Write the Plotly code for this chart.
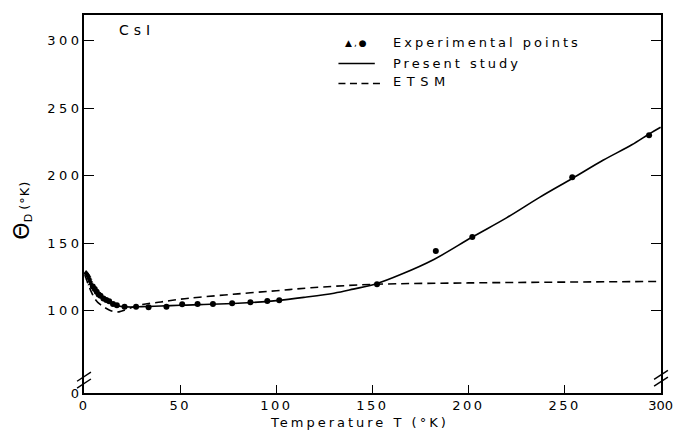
import plotly.graph_objects as go

# ---------------- data ----------------
exp_tri_T = [1.0, 1.5, 2.0, 2.5, 3.0, 3.5]
exp_tri_theta = [128, 127, 126, 124, 122, 120]

exp_dot_T = [4.5, 5.5, 6.5, 7.5, 8.5, 10, 11.5, 13, 15, 17, 21, 27, 33.5,
             42.8, 51, 59, 67, 77, 86.5, 95.3, 101.5, 152.4, 183, 202, 254, 294, 302]
exp_dot_theta = [118, 116, 114, 112, 111, 109, 108, 107, 105, 104, 103, 103, 102.5,
                 103, 104.8, 105, 105, 105.5, 106.3, 107.2, 107.8, 119.7, 144.2, 154.6, 199, 230, 255]

present_T = [0.5, 2, 4, 6, 8, 10, 13, 16, 20, 25, 30, 40, 50, 60, 80, 100, 115, 130,
             140, 152, 165, 182, 202, 220, 237, 254, 270, 285, 294, 300]
present_theta = [128, 124, 118, 114, 111, 108.5, 106, 104, 103, 102.8, 103, 103.5, 104,
                 104.5, 105.5, 107.5, 110, 113, 116, 120, 127, 138, 154.6, 169, 184,
                 198, 211.5, 223, 231, 236]

etsm_T = [0.5, 2, 4, 6, 8, 10, 13, 17, 20, 25, 30, 40, 50, 60, 80, 100, 118, 150, 200, 250, 300]
etsm_theta = [126, 120, 113, 108, 105, 103, 100.5, 99, 100, 102.5, 104.5, 106.5, 108.5,
              110, 112.5, 114.8, 117, 119.5, 120.6, 121.2, 121.7]

x_ticks = [0, 50, 100, 150, 200, 250, 300]
y_ticks = [39, 100, 150, 200, 250, 300]
y_tick_labels = ["0", "100", "150", "200", "250", "300"]

FONT = "DejaVu Sans"


def sp(t, ls=3):
    return f'<span style="letter-spacing:{ls}px">{t}</span>'


fig = go.Figure()
fig.add_trace(go.Scatter(x=etsm_T, y=etsm_theta, mode="lines", line_shape="spline",
                         line=dict(color="black", width=1.6, dash="8px,5px"),
                         showlegend=False, hoverinfo="skip"))
fig.add_trace(go.Scatter(x=present_T, y=present_theta, mode="lines", line_shape="spline",
                         line=dict(color="black", width=1.6),
                         showlegend=False, hoverinfo="skip"))
fig.add_trace(go.Scatter(x=exp_tri_T, y=exp_tri_theta, mode="markers",
                         marker=dict(symbol="triangle-up", size=6, color="black"),
                         showlegend=False, cliponaxis=False))
fig.add_trace(go.Scatter(x=exp_dot_T, y=exp_dot_theta, mode="markers",
                         marker=dict(symbol="circle", size=6, color="black"),
                         showlegend=False, cliponaxis=False))

x_labels = [sp(str(v), 2.5) if v < 300 else str(v) for v in x_ticks]

fig.update_layout(
    template="none",
    width=675, height=431,
    margin=dict(l=84, r=14, t=15, b=38),
    paper_bgcolor="white", plot_bgcolor="white",
    font=dict(family=FONT, color="black", size=13),
    xaxis=dict(range=[-0.1, 300.2], tickvals=x_ticks, ticktext=x_labels,
               ticks="inside", ticklen=8, tickwidth=1.3, tickcolor="black",
               showline=True, linecolor="black", linewidth=1.6, mirror=True,
               showgrid=False, zeroline=False, automargin=False,
               ticklabeloverflow="allow",
               tickfont=dict(size=13, family=FONT)),
    yaxis=dict(range=[39, 319.2], tickvals=y_ticks,
               ticktext=[sp(t, 3.5) for t in y_tick_labels],
               ticks="inside", ticklen=10, tickwidth=1.3, tickcolor="black",
               showline=True, linecolor="black", linewidth=1.6, mirror="ticks",
               showgrid=False, zeroline=False, automargin=False, ticklabelstandoff=-3,
               tickfont=dict(size=13, family=FONT)),
)

ann = [
    dict(x=-0.107, y=0.483,
         text='<span style="font-size:22px">Θ</span><sub><span style="font-size:11px">D</span></sub> '
              + sp("(°K)", 1),
         textangle=-90, font=dict(size=13)),
    dict(x=0.478, y=-0.077, text=sp("Temperature T (°K)", 3), font=dict(size=13)),
    dict(x=0.057, y=0.960, text=sp("CsI", 5), xanchor="left", font=dict(size=14)),
    dict(x=0.473, y=0.927, text=sp("▲,●", 2), font=dict(size=9)),
    dict(x=0.532, y=0.927, text=sp("Experimental points", 3), xanchor="left", font=dict(size=13)),
    dict(x=0.532, y=0.872, text=sp("Present study", 3), xanchor="left", font=dict(size=13)),
    dict(x=0.532, y=0.823, text=sp("ETSM", 5.5), xanchor="left", font=dict(size=13)),
]
for a in ann:
    a.update(xref="paper", yref="paper", showarrow=False)
    a.setdefault("xanchor", "center")
    a["yanchor"] = "middle"
fig.update_layout(annotations=ann)

shapes = [
    dict(type="line", xref="paper", yref="paper", x0=0.441, x1=0.504, y0=0.872, y1=0.872,
         line=dict(color="black", width=1.5)),
    dict(type="line", xref="paper", yref="paper", x0=0.441, x1=0.513, y0=0.819, y1=0.819,
         line=dict(color="black", width=1.5, dash="7px,4.5px")),
]
# axis break marks
for xb, yb in [(0.0, 0.034), (1.0, 0.039)]:
    for dy in (-0.009, 0.009):
        shapes.append(dict(type="line", xref="paper", yref="paper",
                           x0=xb - 0.012, x1=xb + 0.012,
                           y0=yb + dy - 0.012, y1=yb + dy + 0.012,
                           line=dict(color="black", width=1.4)))
fig.update_layout(shapes=shapes)

fig.write_html("out.html", config={"displayModeBar": False},
               post_script="document.body.style.margin='0';")
